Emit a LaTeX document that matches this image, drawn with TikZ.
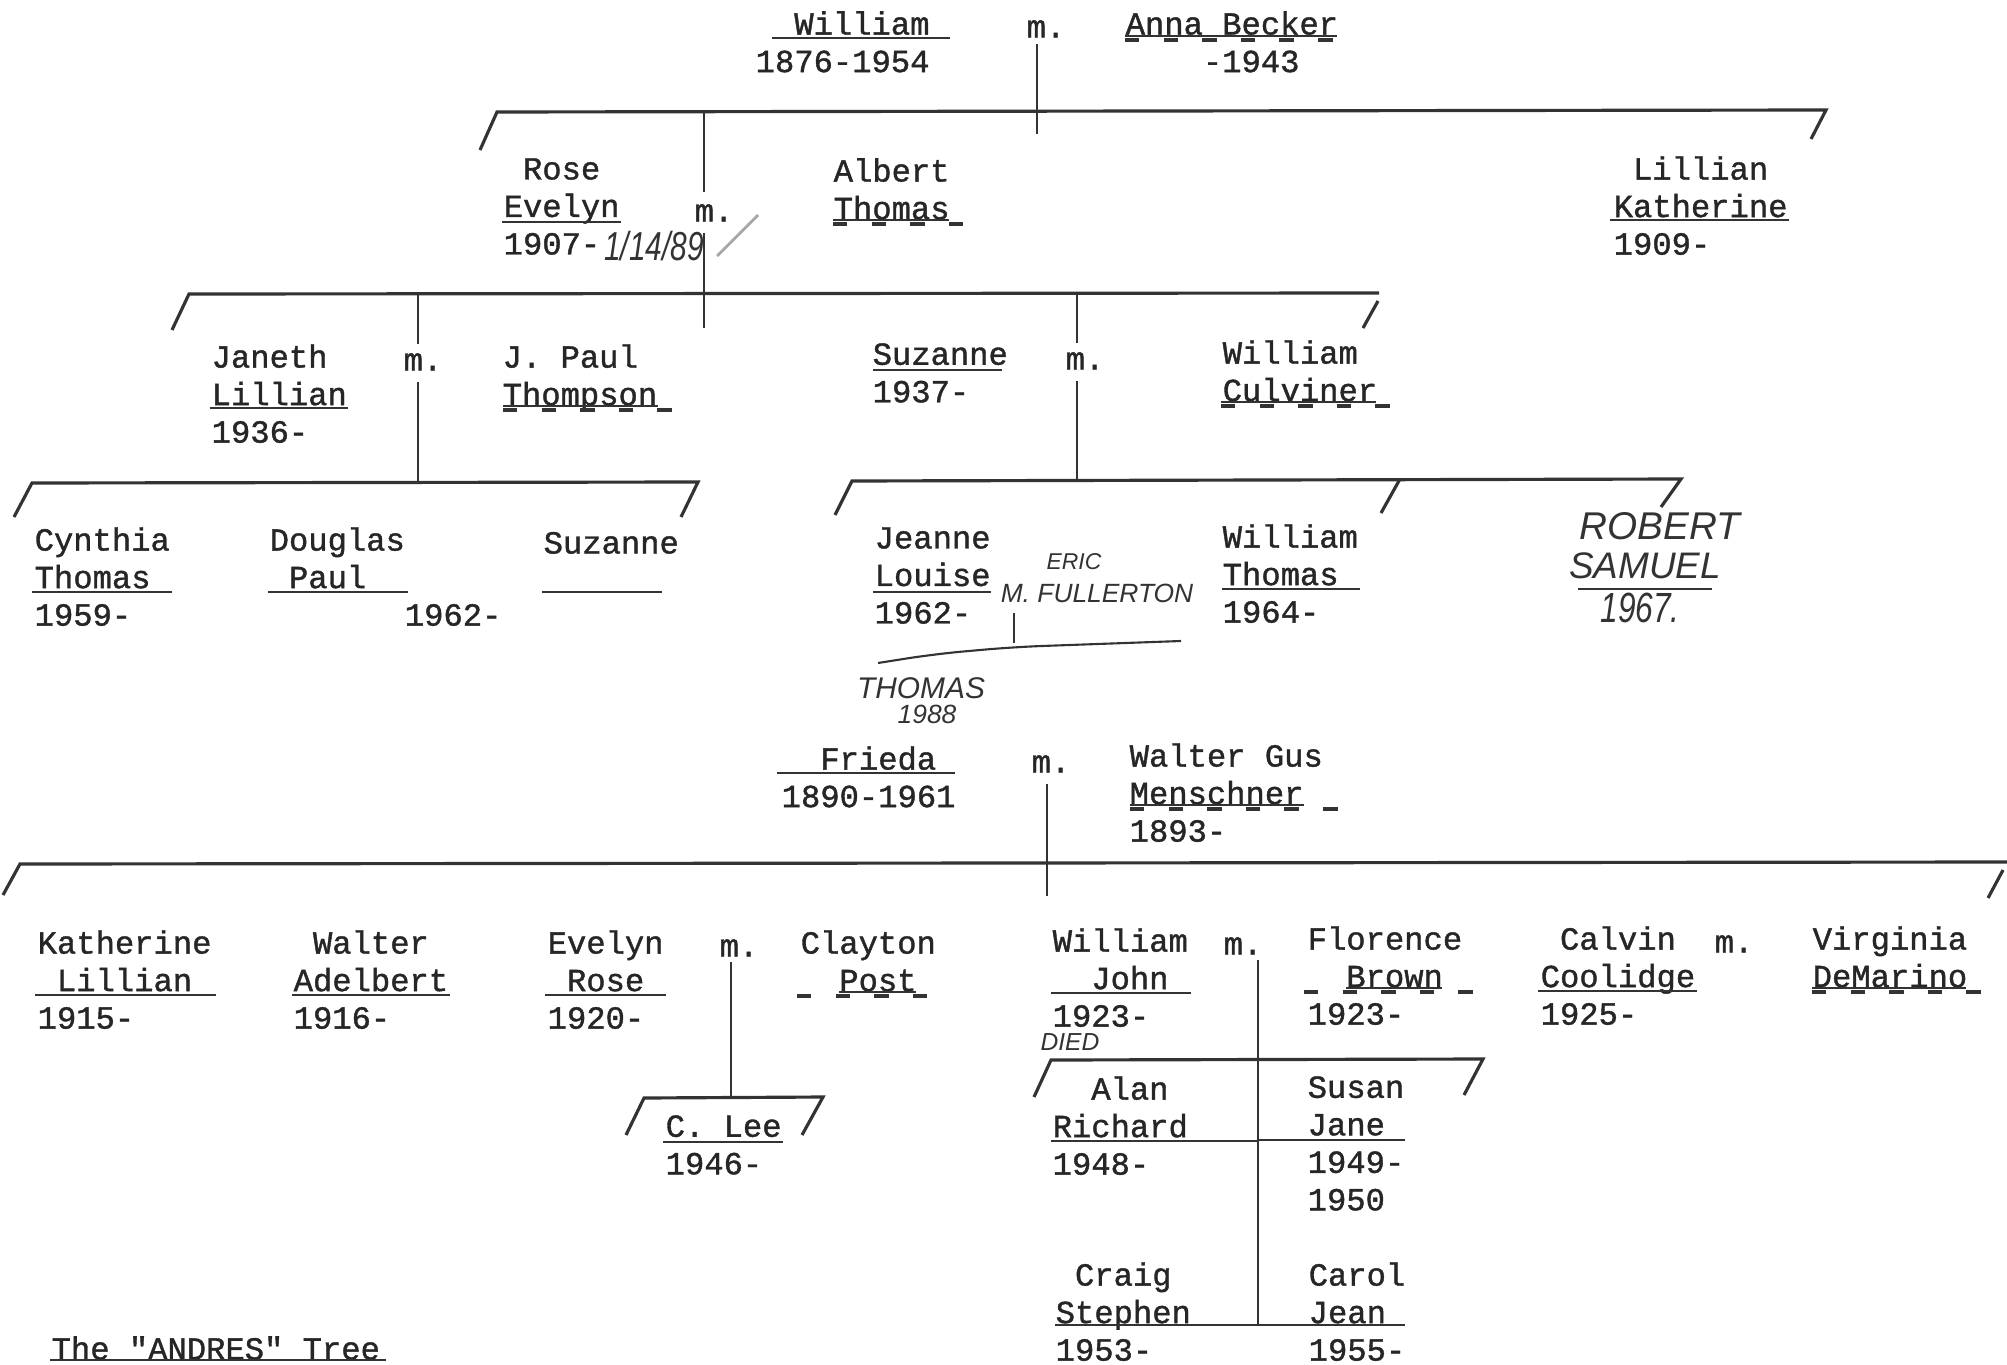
\documentclass[tikz,border=0pt]{standalone}
\usepackage{fontspec}
\usepackage{graphicx}
\newfontfamily\typefont[FakeBold=1.2]{Liberation Mono}
\newfontfamily\handfont{Liberation Sans}
\usetikzlibrary{calc}
\newcommand\pad[1]{\hspace*{#1\dimexpr0.6em\relax}}

\begin{document}
\begin{tikzpicture}[
        x=0.01cm,
        y=-0.01cm,
        pers/.style={
            anchor=north west,
            yshift=6.1pt,
            inner sep=0pt,
            align=left,
            text=black!85,
            font=\typefont\fontsize{9.15}{10.67}\selectfont,
            execute at begin node=\strut
        },
        hand/.style={
            inner sep=0pt,
            text=black!80,
            font=\handfont\itshape\fontsize{#1}{#1}\selectfont
        },
        bar/.style={
            line width=0.9pt,
            black!80
        },
        stem/.style={
            line width=0.6pt,
            black!80
        },
        uline/.style={
            line width=0.8pt,
            black!80
        },
        thinline/.style={
            line width=0.45pt,
            black!80
        },
        dline/.style={
            line width=1.1pt,
            black!80,
            dash pattern=on 4.1pt off 6.88pt
        }
    ]

    \useasboundingbox (0,0) rectangle (2007,1364);

    % William and Anna
    \node[pers] (william) at (755,32) {\pad{2}William\\1876-1954};
    \node[pers] (m1) at (1026,32) {m.};
    \node[pers] (anna) at (1125,32) {Anna Becker\\\pad{4}-1943};

    \coordinate (b1w) at (497,112);
    \coordinate (b1e) at (1826,110);
    \draw[bar] ($(b1w)+(-17,38)$) -- (b1w) -- (b1e) -- ++(-15,29);
    \draw[stem] ($(m1.south)+(-9,-5)$) -- ($(m1.south |- b1w)+(-9,22)$);

    \node[pers] (rose) at (503,179) {\pad{1}Rose\\Evelyn\\1907-};
    \node[hand=10] (rosedate) at (654,246) {\scalebox{0.85}[1.15]{1/14/89}};
    \node[pers] (m2) at (694,216) {m.};
    \node[pers] (albert) at (833,179) {Albert\\Thomas};
    \node[pers] (lillian) at (1613,177) {\pad{1}Lillian\\Katherine\\1909-};
    \coordinate (tick) at (717,256);
    \draw[black!35, line width=0.8pt] (tick) -- ++(41,-41);

    \coordinate (b2w) at (189,294);
    \coordinate (b2e) at (1379,293);
    \draw[bar] ($(b2w)+(-17,36)$) -- (b2w) -- (b2e);
    \draw[bar] ($(b2e)+(-1,8)$) -- ++(-15,27);
    \draw[stem] ($(m2.north)+(-10,-3)$) -- ($(m2.north |- b1w)+(-10,0)$);
    \draw[stem] ($(m2.south)+(-10,0)$) -- ($(m2.south |- b2w)+(-10,34)$);

    % Rose and Albert's children
    \node[pers] (janeth) at (211,365) {Janeth\\Lillian\\1936-};
    \node[pers] (m3) at (403,365) {m.};
    \node[pers] (paul) at (502,365) {J. Paul\\Thompson};
    \node[pers] (suzanne) at (872,364) {Suzanne\\1937-};
    \node[pers] (m4) at (1065,364) {m.};
    \node[pers] (culviner) at (1222,361) {William\\Culviner};

    \coordinate (b3w) at (32,483);
    \coordinate (b3e) at (698,482);
    \coordinate (b4w) at (852,481);
    \coordinate (b4m) at (1400,479);
    \coordinate (b4e) at (1681,479);
    \draw[stem] ($(m3.north)+(-5,0)$) -- ($(m3.north |- b2w)+(-5,0)$);
    \draw[stem] ($(m3.south)+(-5,0)$) -- ($(m3.south |- b3w)+(-5,0)$);
    \draw[stem] ($(m4.north)+(-8,0)$) -- ($(m4.north |- b2w)+(-8,0)$);
    \draw[stem] ($(m4.south)+(-8,0)$) -- ($(m4.south |- b4w)+(-8,0)$);
    \draw[bar] ($(b3w)+(-18,34)$) -- (b3w) -- (b3e) -- ++(-17,35);
    \draw[bar] ($(b4w)+(-17,34)$) -- (b4w) -- (b4e) -- ++(-20,28);
    \draw[bar] (b4m) -- ++(-19,34);

    \node[pers] (cynthia) at (34,548) {Cynthia\\Thomas\\1959-};
    \node[pers] (douglas) at (269,548) {Douglas\\\pad{1}Paul\\\pad{7}1962-};
    \node[pers] (suzanne2) at (543,548) {Suzanne};
    \node[pers] (jeanne) at (874,548) {Jeanne\\Louise\\1962-};
    \node[pers] (wthomas) at (1222,545) {William\\Thomas\\1964-};

    % handwritten additions
    \node[hand=6.5] (eric) at (1074,562) {ERIC};
    \node[hand=7.5] (fullerton) at (1097,593) {M. FULLERTON};
    \node[hand=8.5] (thomas) at (921,688) {THOMAS};
    \node[hand=7.5] (thomasyr) at (927,714) {1988};
    \coordinate (jm) at (1014,613);
    \coordinate (jl) at (878,663);
    \coordinate (jr) at (1181,641);
    \draw[stem] (jm) -- ++(0,30);
    \draw[stem, rounded corners=8pt] (jl) -- (935,654) -- ($(jm)+(0,34)$) -- (jr);
    \node[hand=11] (robert) at (1660,526) {ROBERT};
    \node[hand=10.5] (samuel) at (1645,566) {SAMUEL};
    \node[hand=10] (robertyr) at (1640,608) {\scalebox{0.9}[1.2]{1967.}};

    % Frieda and Walter
    \node[pers] (frieda) at (781,767) {\pad{2}Frieda\\1890-1961};
    \node[pers] (m5) at (1031,767) {m.};
    \node[pers] (walter) at (1129,764) {Walter Gus\\Menschner\\1893-};

    \coordinate (b5w) at (20,864);
    \coordinate (b5e) at (2007,862);
    \draw[stem] ($(m5.south)+(-4,0)$) -- ($(m5.south |- b5w)+(-4,32)$);
    \draw[bar] ($(b5w)+(-17,31)$) -- (b5w) -- (b5e);
    \draw[bar] ($(b5e)+(-4,8)$) -- ++(-15,28);

    \node[pers] (katherine) at (37,951) {Katherine\\\pad{1}Lillian\\1915-};
    \node[pers] (walter2) at (293,951) {\pad{1}Walter\\Adelbert\\1916-};
    \node[pers] (evelyn) at (547,951) {Evelyn\\\pad{1}Rose\\1920-};
    \node[pers] (m6) at (719,951) {m.};
    \node[pers] (clayton) at (800,951) {Clayton\\\pad{2}Post};
    \node[pers] (william3) at (1052,949) {William\\\pad{2}John\\1923-};
    \node[hand=7] (died) at (1070,1042) {DIED};
    \node[pers] (m7) at (1223,949) {m.};
    \node[pers] (florence) at (1307,947) {Florence\\\pad{2}Brown\\1923-};
    \node[pers] (calvin) at (1540,947) {\pad{1}Calvin\\Coolidge\\1925-};
    \node[pers] (m8) at (1714,947) {m.};
    \node[pers] (virginia) at (1812,947) {Virginia\\DeMarino};

    \coordinate (b6w) at (644,1098);
    \coordinate (b6e) at (823,1097);
    \draw[stem] ($(m6.south)+(-8,-6)$) -- ($(m6.south |- b6w)+(-8,0)$);
    \draw[bar] ($(b6w)+(-18,37)$) -- (b6w) -- (b6e) -- ++(-21,38);
    \node[pers] (clee) at (665,1136) {C. Lee\\1946-};

    \coordinate (b7w) at (1051,1060);
    \coordinate (b7e) at (1483,1059);
    \coordinate (b8) at (1055,1325);
    \draw[stem] ($(m7.south)+(15,-6)$) -- ($(m7.south |- b8)+(15,0)$);
    \draw[bar] ($(b7w)+(-17,37)$) -- (b7w) -- (b7e) -- ++(-19,36);

    \node[pers] (alan) at (1052,1097) {\pad{2}Alan\\Richard\\1948-};
    \node[pers] (susan) at (1307,1097) {Susan\\Jane\\1949-\\1950};
    \node[pers] (craig) at (1055,1283) {\pad{1}Craig\\Stephen\\1953-};
    \node[pers] (carol) at (1308,1283) {Carol\\Jean\\1955-};

    \node[pers] (title) at (51,1354) {The "ANDRES" Tree};

    % underlines
    \draw[uline] (772,38) -- (950,38);
    \draw[thinline] (1125,36) -- (1337,36);
    \draw[dline] (1125,40) -- (1341,40);
    \draw[uline] (502,222) -- (621,222);
    \draw[thinline] (833,220) -- (949,220);
    \draw[dline] (833,224) -- (970,224);
    \draw[uline] (1610,220) -- (1789,220);
    \draw[uline] (210,408) -- (348,408);
    \draw[thinline] (503,406) -- (658,406);
    \draw[dline] (503,410) -- (679,410);
    \draw[uline] (873,370) -- (1002,370);
    \draw[thinline] (1221,402) -- (1376,402);
    \draw[dline] (1221,406) -- (1399,406);
    \draw[uline] (32,592) -- (172,592);
    \draw[uline] (268,592) -- (408,592);
    \draw[uline] (542,592) -- (662,592);
    \draw[uline] (873,592) -- (991,592);
    \draw[uline] (1222,589) -- (1360,589);
    \draw[uline] (1578,589) -- (1712,589);
    \draw[uline] (777,773) -- (955,773);
    \draw[thinline] (1130,805) -- (1304,805);
    \draw[dline] (1130,809) -- (1344,809);
    \draw[uline] (35,995) -- (216,995);
    \draw[uline] (292,995) -- (450,995);
    \draw[uline] (545,995) -- (666,995);
    \draw[thinline] (839,992) -- (916,992);
    \draw[dline] (797,996) -- (938,996);
    \draw[uline] (663,1142) -- (783,1142);
    \draw[uline] (1051,993) -- (1191,993);
    \draw[thinline] (1346,988) -- (1442,988);
    \draw[dline] (1304,992) -- (1483,992);
    \draw[uline] (1538,991) -- (1697,991);
    \draw[thinline] (1812,988) -- (1966,988);
    \draw[dline] (1812,992) -- (1988,992);
    \draw[uline] (1051,1141) -- (1257,1141);
    \draw[uline] (1257,1140) -- (1405,1140);
    \draw[uline] (b8) -- (1405,1325);
    \draw[uline] (50,1360) -- (386,1360);

\end{tikzpicture}
\end{document}
